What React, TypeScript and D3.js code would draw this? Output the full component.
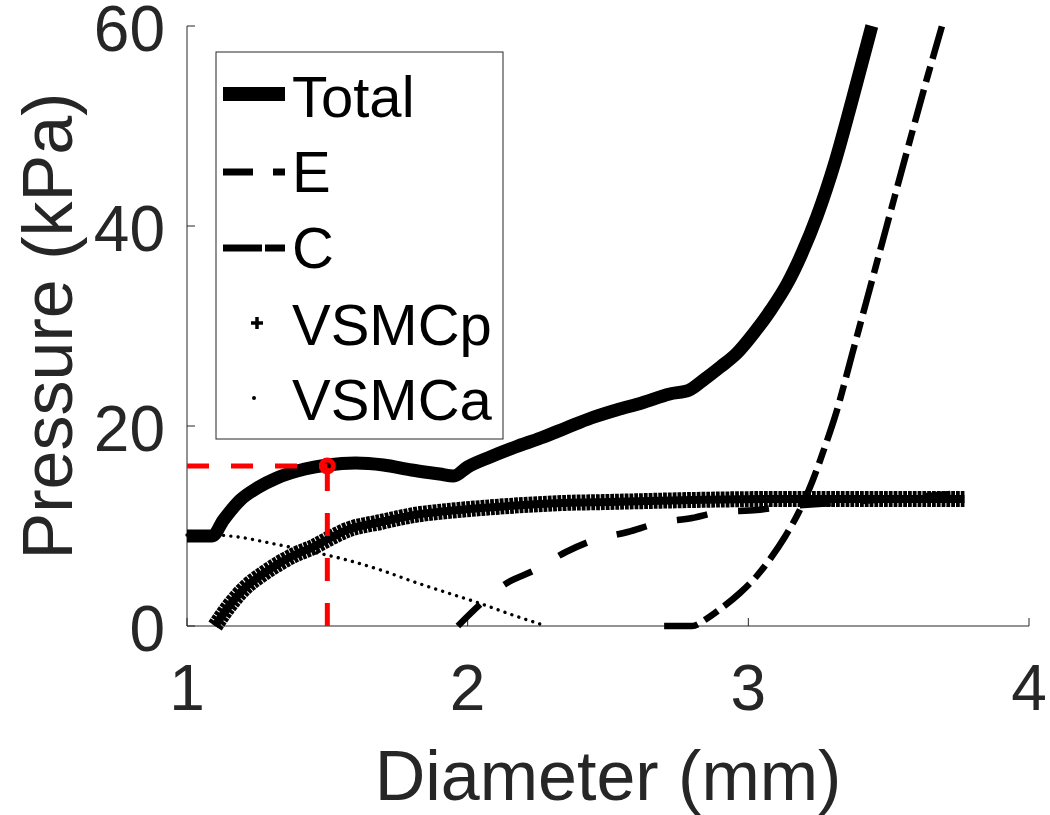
import React from "react";
import * as d3 from "d3";

// ---------- data ----------
const xTicks = [1, 2, 3, 4];
const yTicks = [0, 20, 40, 60];

const totalD = [1.0, 1.09, 1.13, 1.19, 1.25, 1.32, 1.42, 1.5, 1.6, 1.7, 1.8, 1.9, 1.95, 2.0, 2.08, 2.17, 2.26, 2.35, 2.44, 2.53, 2.62, 2.72, 2.79, 2.84, 2.9, 2.96, 3.02, 3.08, 3.14, 3.19, 3.245, 3.31, 3.37, 3.44];
const totalP = [9.0, 9.0, 10.6, 12.6, 13.8, 14.8, 15.7, 16.1, 16.3, 16.1, 15.6, 15.2, 15.0, 15.9, 16.9, 17.9, 18.8, 19.8, 20.8, 21.6, 22.3, 23.2, 23.6, 24.6, 25.9, 27.3, 29.3, 31.6, 34.3, 37.2, 41.0, 46.5, 52.6, 60];

const eD = [2.7, 2.8, 2.85, 2.9, 2.97, 3.03, 3.08, 3.13, 3.18, 3.23, 3.27, 3.315, 3.37, 3.42, 3.47, 3.52, 3.58, 3.64, 3.69];
const eP = [0, 0, 0.7, 1.7, 3.3, 5.0, 6.8, 8.9, 11.4, 14.6, 17.7, 21.5, 27.2, 32.4, 37.6, 42.8, 49.0, 55.1, 60];

const cD = [1.965, 2.05, 2.14, 2.24, 2.35, 2.45, 2.57, 2.68, 2.8, 2.9, 3.03, 3.12, 3.3, 3.5, 3.72];
const cP = [0, 2.3, 4.3, 5.6, 7.4, 8.6, 9.4, 10.3, 10.8, 11.4, 11.6, 11.9, 12.3, 12.7, 13.2];

const vpD = [1.1, 1.15, 1.21, 1.27, 1.33, 1.39, 1.45, 1.51, 1.57, 1.69, 1.81, 1.93, 2.05, 2.2, 2.34, 2.5, 2.8, 3.1, 3.4, 3.77];
const vpP = [0, 2.0, 3.9, 5.2, 6.3, 7.2, 7.9, 8.8, 9.6, 10.4, 11.1, 11.5, 11.8, 12.1, 12.3, 12.4, 12.6, 12.7, 12.7, 12.7];

const vaD = [1.0, 1.1, 1.153, 1.33, 1.45, 1.57, 1.69, 1.81, 1.93, 2.04, 2.16, 2.28];
const vaP = [9.1, 9.1, 9.0, 8.1, 7.4, 6.6, 5.6, 4.4, 3.3, 2.3, 1.1, 0];

const refD = [1.5];
const refP = [16.0];

const legendLabels = ["Total", "E", "C", "VSMCp", "VSMCa"];

// ---------- layout ----------
const W = 1050;
const H = 815;
const FONT = "'Liberation Sans', Arial, Helvetica, sans-serif";
const AX = "#262626";

const x = d3.scaleLinear().domain([1, 4]).range([187, 1029]);
const y = d3.scaleLinear().domain([0, 60]).range([626, 26]);

const zip = (a: number[], b: number[]) => a.map((v, i) => [v, b[i]] as [number, number]);

const line = d3
  .line<[number, number]>()
  .x((d) => x(d[0]))
  .y((d) => y(d[1]))
  .curve(d3.curveMonotoneX);

export default function App() {
  const totalPath = line(zip(totalD, totalP)) || "";
  const ePath = line(zip(eD, eP)) || "";
  const cPath = line(zip(cD, cP)) || "";
  const vpPath = line(zip(vpD, vpP)) || "";
  const vaPath = line(zip(vaD, vaP)) || "";

  const legendBaselines = [117, 192, 268, 345, 420];
  const lx0 = 223;
  const lx1 = 285;

  return (
    <svg
      width={W}
      height={H}
      style={{ position: "absolute", left: 0, top: 0, background: "#fff" }}
      fontFamily={FONT}
    >
      <rect x={0} y={0} width={W} height={H} fill="#fff" />

      {/* axes */}
      <line x1={x(1)} y1={y(0)} x2={x(4)} y2={y(0)} stroke={AX} strokeWidth={1} />
      <line x1={x(1)} y1={y(0)} x2={x(1)} y2={y(60)} stroke={AX} strokeWidth={1} />
      {xTicks.map((t) => (
        <g key={"xt" + t}>
          <line x1={x(t)} x2={x(t)} y1={y(0)} y2={y(0) - 8} stroke={AX} strokeWidth={1} />
          <text x={x(t)} y={710} textAnchor="middle" fontSize={64} fill={AX}>
            {t}
          </text>
        </g>
      ))}
      {yTicks.map((t) => (
        <g key={"yt" + t}>
          <line x1={x(1)} x2={x(1) + 8} y1={y(t)} y2={y(t)} stroke={AX} strokeWidth={1} />
          <text x={165} y={y(t) + 25} textAnchor="end" fontSize={64} fill={AX}>
            {t}
          </text>
        </g>
      ))}
      <text x={(x(1) + x(4)) / 2} y={800} textAnchor="middle" fontSize={70} fill={AX}>
        Diameter (mm)
      </text>
      <text
        transform={`translate(72, ${(y(0) + y(60)) / 2}) rotate(-90)`}
        textAnchor="middle"
        fontSize={70}
        fill={AX}
      >
        Pressure (kPa)
      </text>

      {/* series */}
      <path d={vaPath} fill="none" stroke="#000" strokeWidth={3.4} strokeDasharray="0.01 7.3" strokeLinecap="round" />
      <path d={vpPath} fill="none" stroke="#000" strokeWidth={16} strokeDasharray="3.8 1.0" />
      <path d={vpPath} fill="none" stroke="#000" strokeWidth={8} />
      <path d={cPath} fill="none" stroke="#000" strokeWidth={6.5} strokeDasharray="31 31" />
      <path d={ePath} fill="none" stroke="#000" strokeWidth={6.5} strokeDasharray="34 8 16 8" />
      <path d={totalPath} fill="none" stroke="#000" strokeWidth={13} strokeLinejoin="round" />

      {/* reference point */}
      <line x1={x(1)} x2={x(refD[0])} y1={y(refP[0])} y2={y(refP[0])} stroke="#ff0000" strokeWidth={5} strokeDasharray="22 22" />
      <line x1={x(refD[0])} x2={x(refD[0])} y1={y(0)} y2={y(refP[0])} stroke="#ff0000" strokeWidth={5} strokeDasharray="23 22" />
      <circle cx={x(refD[0])} cy={y(refP[0])} r={6} fill="none" stroke="#ff0000" strokeWidth={5} />

      {/* legend */}
      <rect x={216} y={52} width={287} height={387} fill="#fff" stroke={AX} strokeWidth={1} />
      <line x1={lx0} x2={lx1} y1={94} y2={94} stroke="#000" strokeWidth={14} />
      <line x1={lx0} x2={lx1} y1={172} y2={172} stroke="#000" strokeWidth={7} strokeDasharray="30 20 12" />
      <line x1={lx0} x2={lx1} y1={248} y2={248} stroke="#000" strokeWidth={7} strokeDasharray="39 3 20" />
      <g stroke="#000" strokeWidth={3.5}>
        <line x1={251} x2={263} y1={323} y2={323} />
        <line x1={257} x2={257} y1={317} y2={329} />
      </g>
      <circle cx={254} cy={398} r={2} fill="#000" />
      {legendLabels.map((lab, i) => (
        <text key={lab} x={292} y={legendBaselines[i]} fontSize={58} fill="#000">
          {lab}
        </text>
      ))}
    </svg>
  );
}
